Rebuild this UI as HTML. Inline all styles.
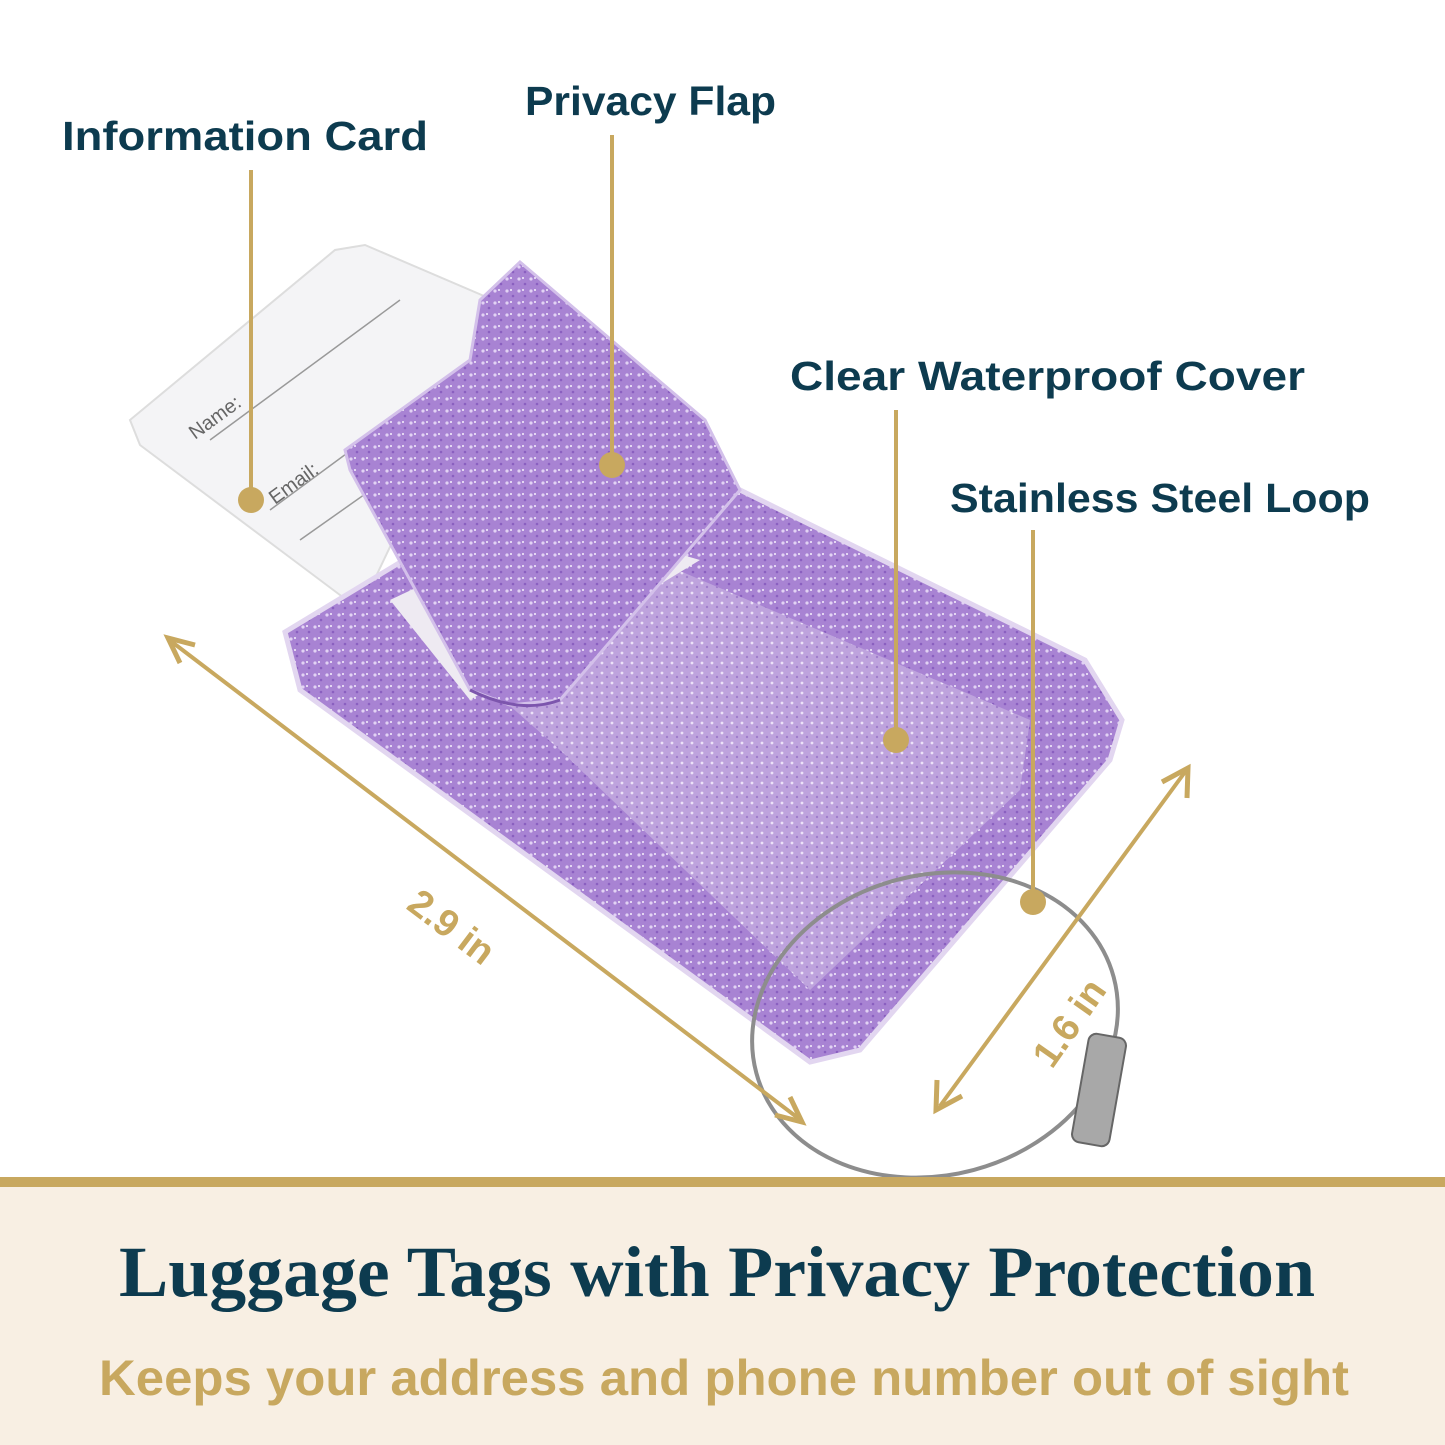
<!DOCTYPE html>
<html><head><meta charset="utf-8"><style>
html,body{margin:0;padding:0;background:#fff;}
body{width:1445px;height:1445px;position:relative;overflow:hidden;}
svg{position:absolute;left:0;top:0;}
</style></head><body>
<svg width="1445" height="1445" viewBox="0 0 1445 1445" xmlns="http://www.w3.org/2000/svg">
<defs>
<pattern id="gl" width="12" height="12" patternUnits="userSpaceOnUse">
<rect width="12" height="12" fill="#a883d3"/>
<circle cx="3" cy="3" r="1.6" fill="#e2d2f4"/>
<circle cx="9" cy="8" r="1.3" fill="#8a5fc0"/>
<circle cx="7" cy="2" r="1" fill="#f6f0fd"/>
</pattern>
<pattern id="gl2" width="10" height="10" patternUnits="userSpaceOnUse">
<rect width="10" height="10" fill="#bea3dd"/>
<circle cx="2" cy="3" r="1.4" fill="#ece2f8"/>
<circle cx="7" cy="7" r="1.2" fill="#a07dcb"/>
</pattern>
</defs>
<!-- card -->
<polygon points="130,420 335,250 365,245 505,305 360,610 300,565 140,445" fill="#f4f4f6" stroke="#ddd" stroke-width="2"/>
<g stroke="#999" stroke-width="1.5">
<line x1="210" y1="440" x2="400" y2="300"/>
<line x1="270" y1="510" x2="460" y2="370"/>
<line x1="300" y1="540" x2="470" y2="420"/>
</g>
<text transform="translate(195,440) rotate(-36)" font-family="Liberation Sans,sans-serif" font-size="20" fill="#666">Name:</text>
<text transform="translate(275,505) rotate(-36)" font-family="Liberation Sans,sans-serif" font-size="20" fill="#666">Email:</text>
<!-- tag body -->
<polygon points="285,632 470,520 740,490 1085,660 1122,720 1110,760 860,1050 810,1062 300,690" fill="url(#gl)" stroke="#e2d6f0" stroke-width="5"/>
<!-- window -->
<polygon points="390,600 560,520 1030,720 1020,790 810,990 560,750" fill="url(#gl2)"/>
<polygon points="390,600 560,520 700,560 470,700" fill="#eeeaf2"/>
<!-- flap -->
<polygon points="345,450 470,360 480,300 520,262 705,420 740,490 560,700 510,705 470,690 350,470" fill="url(#gl)" stroke="#d3c0ea" stroke-width="3"/>
<path d="M470,690 Q520,715 560,700" fill="none" stroke="#7c55ad" stroke-width="3"/>
<!-- loop -->
<ellipse cx="935" cy="1025" rx="185" ry="150" transform="rotate(-15 935 1025)" fill="none" stroke="#8d8d8d" stroke-width="4"/>
<rect x="1080" y="1035" width="38" height="110" rx="8" transform="rotate(10 1099 1090)" fill="#a8a8a8" stroke="#666" stroke-width="2"/>
<!-- leader lines -->
<g stroke="#c8a85f" stroke-width="4" fill="#c8a85f">
<line x1="251" y1="170" x2="251" y2="500"/><circle cx="251" cy="500" r="13" stroke="none"/>
<line x1="612" y1="135" x2="612" y2="465"/><circle cx="612" cy="465" r="13" stroke="none"/>
<line x1="896" y1="410" x2="896" y2="740"/><circle cx="896" cy="740" r="13" stroke="none"/>
<line x1="1033" y1="530" x2="1033" y2="902"/><circle cx="1033" cy="902" r="13" stroke="none"/>
<line x1="172" y1="642" x2="798" y2="1118"/>
<line x1="1185" y1="772" x2="940" y2="1106"/>
<polyline points="195,645 168,638 180,663" fill="none" stroke-width="5"/>
<polyline points="775,1115 802,1122 790,1097" fill="none" stroke-width="5"/>
<polyline points="1162,782 1188,768 1187,798" fill="none" stroke-width="5"/>
<polyline points="962,1096 936,1110 937,1080" fill="none" stroke-width="5"/>
</g>
<text transform="translate(405,908) rotate(37)" font-family="Liberation Sans,sans-serif" font-weight="bold" font-size="38" fill="#c8a85f">2.9 in</text>
<text transform="translate(1052,1070) rotate(-55)" font-family="Liberation Sans,sans-serif" font-weight="bold" font-size="38" fill="#c8a85f">1.6 in</text>
<!-- labels -->
<g font-family="Liberation Sans,sans-serif" font-weight="bold" font-size="41" fill="#0d3b4f">
<text x="62" y="150" textLength="366" lengthAdjust="spacingAndGlyphs">Information Card</text>
<text x="525" y="115" textLength="251" lengthAdjust="spacingAndGlyphs">Privacy Flap</text>
<text x="790" y="390" textLength="515" lengthAdjust="spacingAndGlyphs">Clear Waterproof Cover</text>
<text x="950" y="512" textLength="420" lengthAdjust="spacingAndGlyphs">Stainless Steel Loop</text>
</g>
<!-- bottom band -->
<rect x="0" y="1186" width="1445" height="259" fill="#f8efe3"/>
<rect x="0" y="1177" width="1445" height="10" fill="#c8a85f"/>
<text x="717" y="1296" text-anchor="middle" font-family="Liberation Serif,serif" font-weight="bold" font-size="72" fill="#0d3b4f" textLength="1196" lengthAdjust="spacingAndGlyphs">Luggage Tags with Privacy Protection</text>
<text x="724" y="1395" text-anchor="middle" font-family="Liberation Sans,sans-serif" font-weight="bold" font-size="50" fill="#c8a85f" textLength="1250" lengthAdjust="spacingAndGlyphs">Keeps your address and phone number out of sight</text>
</svg>
</body></html>
